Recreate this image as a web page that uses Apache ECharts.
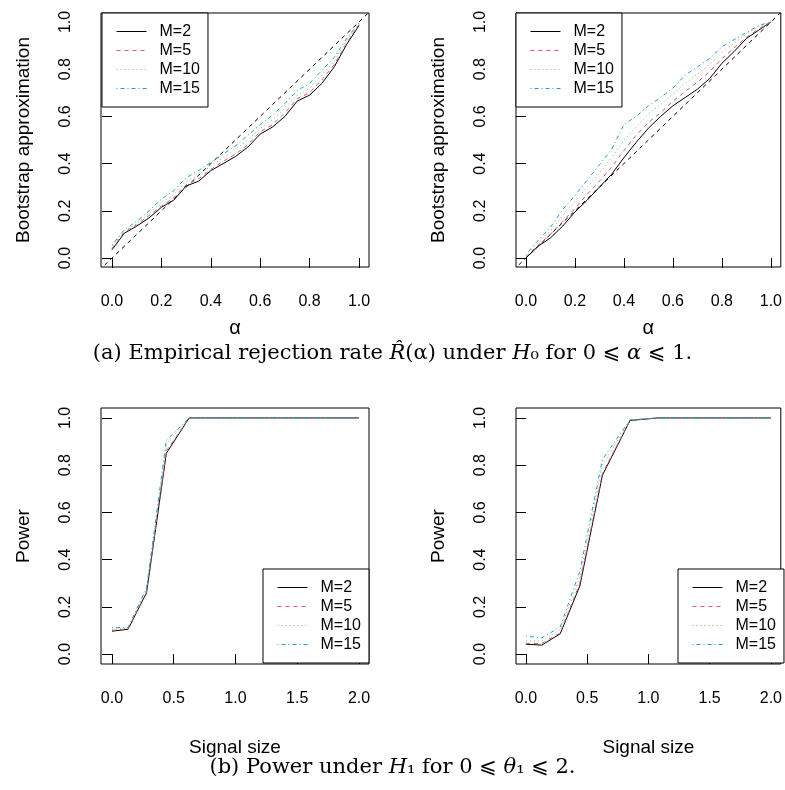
<!DOCTYPE html>
<html>
<head>
<meta charset="utf-8">
<script src="https://cdn.jsdelivr.net/npm/echarts@6/dist/echarts.min.js"></script>
<style>
html, body { margin: 0; background: #fff; }
#chart { width: 785px; height: 790px; }
</style>
</head>
<body>
<div id="chart"></div>
<script>
// nominal levels (top row)
const alpha = [0, 0.05, 0.1, 0.15, 0.2, 0.25, 0.3, 0.35, 0.4, 0.45, 0.5, 0.55, 0.6, 0.65, 0.7, 0.75, 0.8, 0.85, 0.9, 0.95, 1];
const diagonal = [-0.1, 1.1];

// top-left panel
const rateLeftM2  = [0.035, 0.105, 0.135, 0.17, 0.215, 0.245, 0.305, 0.325, 0.37, 0.40, 0.43, 0.47, 0.525, 0.555, 0.60, 0.665, 0.69, 0.74, 0.81, 0.905, 0.985];
const rateLeftM5  = [0.04, 0.11, 0.14, 0.18, 0.22, 0.255, 0.31, 0.335, 0.375, 0.41, 0.44, 0.48, 0.535, 0.565, 0.615, 0.675, 0.70, 0.755, 0.82, 0.91, 0.99];
const rateLeftM10 = [0.05, 0.115, 0.145, 0.19, 0.235, 0.27, 0.325, 0.35, 0.39, 0.425, 0.46, 0.50, 0.55, 0.585, 0.635, 0.69, 0.72, 0.775, 0.835, 0.92, 0.99];
const rateLeftM15 = [0.055, 0.12, 0.155, 0.20, 0.25, 0.285, 0.34, 0.37, 0.405, 0.44, 0.475, 0.52, 0.565, 0.605, 0.655, 0.71, 0.74, 0.795, 0.85, 0.93, 0.995];

// top-right panel
const rateRightM2  = [0.0, 0.05, 0.085, 0.135, 0.195, 0.245, 0.30, 0.355, 0.425, 0.49, 0.55, 0.60, 0.645, 0.68, 0.715, 0.76, 0.825, 0.875, 0.93, 0.965, 1.0];
const rateRightM5  = [0.005, 0.055, 0.10, 0.155, 0.21, 0.27, 0.325, 0.385, 0.455, 0.52, 0.575, 0.615, 0.665, 0.705, 0.745, 0.79, 0.845, 0.89, 0.935, 0.97, 1.0];
const rateRightM10 = [0.01, 0.065, 0.115, 0.18, 0.24, 0.30, 0.36, 0.425, 0.50, 0.555, 0.61, 0.65, 0.695, 0.74, 0.78, 0.82, 0.87, 0.91, 0.95, 0.98, 1.0];
const rateRightM15 = [0.015, 0.075, 0.13, 0.205, 0.265, 0.33, 0.395, 0.46, 0.565, 0.60, 0.645, 0.68, 0.72, 0.775, 0.81, 0.845, 0.895, 0.925, 0.955, 0.985, 1.0];

// signal sizes (bottom row)
const signal = [0, 0.13, 0.28, 0.44, 0.625, 0.85, 1.08, 1.35, 1.65, 2.0];

const powerLeftM2  = [0.097, 0.105, 0.26, 0.85, 1, 1, 1, 1, 1, 1];
const powerLeftM5  = [0.10, 0.107, 0.265, 0.86, 1, 1, 1, 1, 1, 1];
const powerLeftM10 = [0.105, 0.11, 0.27, 0.89, 1, 1, 1, 1, 1, 1];
const powerLeftM15 = [0.112, 0.113, 0.28, 0.905, 1, 1, 1, 1, 1, 1];

const powerRightM2  = [0.042, 0.038, 0.086, 0.288, 0.758, 0.989, 1, 1, 1, 1];
const powerRightM5  = [0.045, 0.045, 0.09, 0.30, 0.765, 0.99, 1, 1, 1, 1];
const powerRightM10 = [0.056, 0.055, 0.105, 0.325, 0.80, 0.99, 1, 1, 1, 1];
const powerRightM15 = [0.076, 0.069, 0.115, 0.35, 0.825, 0.992, 1, 1, 1, 1];

const alphaTicks = [0, 0.2, 0.4, 0.6, 0.8, 1];
const signalTicks = [0, 0.5, 1, 1.5, 2];
const probTicks = [0, 0.2, 0.4, 0.6, 0.8, 1];

const names = ['M=2', 'M=5', 'M=10', 'M=15'];
const colors = ['#000000', '#DF536B', '#61D04F', '#2297E6'];
const dashes = ['solid', [4, 4], [1, 3], [1, 3, 4, 3]];

const SANS = "'Liberation Sans', Arial, Helvetica, sans-serif";
const SERIF = "'DejaVu Serif', 'Liberation Serif', 'DejaVu Sans', serif";

function pairs (xs, ys) {
    return xs.map((x, i) => [x, ys[i]]);
}

function xAxisOf (gridIndex, min, max, ticks, name, nameGap, nameSize) {
    return {
        type: 'value', gridIndex, min, max,
        name, nameLocation: 'middle', nameGap,
        nameTextStyle: { fontFamily: SANS, fontSize: nameSize, color: '#000' },
        axisLine: { show: false },
        axisTick: { show: true, length: 10, customValues: ticks, lineStyle: { color: '#000' } },
        axisLabel: {
            customValues: ticks, margin: 27, color: '#000',
            fontFamily: SANS, fontSize: 16,
            formatter: v => v.toFixed(1),
        },
        splitLine: { show: false },
    };
}

function yAxisOf (gridIndex, min, max, name) {
    return {
        type: 'value', gridIndex, min, max,
        name, nameLocation: 'middle', nameRotate: 90, nameGap: 68,
        nameTextStyle: { fontFamily: SANS, fontSize: 19, color: '#000' },
        axisLine: { show: false },
        axisTick: { show: true, length: 10, customValues: probTicks, lineStyle: { color: '#000' } },
        axisLabel: {
            customValues: probTicks, rotate: 90, margin: 27, color: '#000',
            fontFamily: SANS, fontSize: 16,
            formatter: v => v.toFixed(1),
        },
        splitLine: { show: false },
    };
}

// drawn in order, so M=15 ends up on top like the original
function curves (idx, xs, lists) {
    return lists.map((ys, k) => ({
        name: names[k],
        type: 'line',
        xAxisIndex: idx, yAxisIndex: idx,
        data: pairs(xs, ys),
        symbol: 'none',
        clip: true,
        lineStyle: { color: colors[k], width: 1, type: dashes[k] },
        itemStyle: { color: colors[k] },
        z: 3 + k,
    }));
}

function diagonalOf (idx) {
    return {
        name: 'diag', type: 'line',
        xAxisIndex: idx, yAxisIndex: idx,
        data: diagonal.map(v => [v, v]),
        symbol: 'none', clip: true, silent: true,
        lineStyle: { color: '#000', width: 1, type: [4, 4] },
        z: 2,
    };
}

function legendOf (left, top) {
    return {
        data: names, orient: 'vertical', left, top,
        align: 'left',
        itemWidth: 30, itemHeight: 14, itemGap: 0,
        padding: [9, 8, 9, 14],
        borderColor: '#000', borderWidth: 1, borderRadius: 0,
        backgroundColor: '#fff',
        selectedMode: false,
        // line only, no marker in the key
        itemStyle: { color: 'rgba(0,0,0,0)', borderWidth: 0, opacity: 0 },
        lineStyle: { width: 1 },
        textStyle: { fontFamily: SANS, fontSize: 16, lineHeight: 19, color: '#000', padding: [0, 0, 0, 8] },
    };
}

const grid = [
    { left: 101, top: 13, width: 268, height: 254 },
    { left: 516, top: 13, width: 267, height: 254 },
    { left: 101, top: 408, width: 268, height: 256 },
    { left: 516, top: 408, width: 267, height: 256 },
].map(g => Object.assign(g, { show: true, borderColor: '#000', borderWidth: 1, backgroundColor: 'transparent' }));

const chart = echarts.init(document.getElementById('chart'), null, { renderer: 'canvas' });

const option = {
    animation: false,
    backgroundColor: '#fff',
    grid,
    xAxis: [
        xAxisOf(0, -0.0445, 1.0405, alphaTicks, 'α', 51, 20),
        xAxisOf(1, -0.0405, 1.0405, alphaTicks, 'α', 51, 20),
        xAxisOf(2, -0.089, 2.081, signalTicks, 'Signal size', 74, 19),
        xAxisOf(3, -0.081, 2.081, signalTicks, 'Signal size', 74, 19),
    ],
    yAxis: [
        yAxisOf(0, -0.038, 1.038, 'Bootstrap approximation'),
        yAxisOf(1, -0.038, 1.038, 'Bootstrap approximation'),
        yAxisOf(2, -0.042, 1.042, 'Power'),
        yAxisOf(3, -0.042, 1.042, 'Power'),
    ],
    legend: [
        legendOf(102, 13),
        legendOf(516, 13),
        legendOf(263, 569),
        legendOf(678, 569),
    ],
    series: [
        diagonalOf(0),
        ...curves(0, alpha, [rateLeftM2, rateLeftM5, rateLeftM10, rateLeftM15]),
        diagonalOf(1),
        ...curves(1, alpha, [rateRightM2, rateRightM5, rateRightM10, rateRightM15]),
        ...curves(2, signal, [powerLeftM2, powerLeftM5, powerLeftM10, powerLeftM15]),
        ...curves(3, signal, [powerRightM2, powerRightM5, powerRightM10, powerRightM15]),
    ],
    graphic: [
        {
            type: 'text', left: 'center', top: 343,
            style: {
                text: '(a) Empirical rejection rate {i|R̂}(α) under {i|H}₀ for 0 ⩽ {i|α} ⩽ 1.',
                fontFamily: SERIF, fontSize: 21, fill: '#000',
                rich: { i: { fontFamily: SERIF, fontSize: 21, fontStyle: 'italic' } },
            },
        },
        {
            type: 'text', left: 'center', top: 757,
            style: {
                text: '(b) Power under {i|H}₁ for 0 ⩽ {i|θ}₁ ⩽ 2.',
                fontFamily: SERIF, fontSize: 21, fill: '#000',
                rich: { i: { fontFamily: SERIF, fontSize: 21, fontStyle: 'italic' } },
            },
        },
    ],
};

chart.setOption(option);
</script>
</body>
</html>
